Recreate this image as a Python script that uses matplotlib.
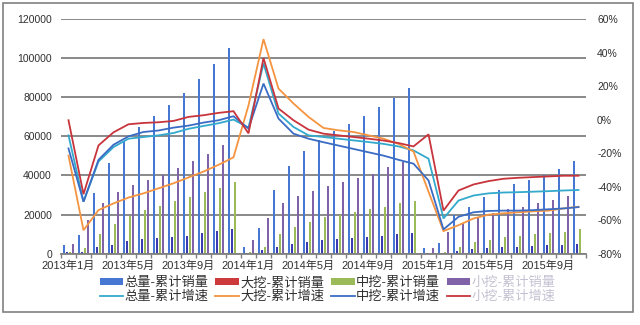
import numpy as np
import matplotlib
matplotlib.use("Agg")
import matplotlib.pyplot as plt
from matplotlib.patches import Patch, Rectangle
from matplotlib.lines import Line2D

plt.rcParams['font.family'] = ['Liberation Sans', 'Noto Sans CJK SC', 'DejaVu Sans']

# 2013年1月 – 2015年11月, monthly cumulative figures
n_months = 35
tick_index = [0, 4, 8, 12, 16, 20, 24, 28, 32]
tick_labels = ["2013年1月", "2013年5月", "2013年9月", "2014年1月", "2014年5月",
               "2014年9月", "2015年1月", "2015年5月", "2015年9月"]

# cumulative sales (units)
total_sales = [4500, 9600, 31000, 46500, 57400, 64800, 70600, 76200, 82200, 89400, 97100, 105300,
               3600, 13200, 32700, 44600, 52300, 58000, 62600, 66300, 70300, 75100, 79700, 84800,
               2800, 5300, 19800, 24100, 29200, 32700, 35600, 37800, 40400, 43300, 47200]
large_sales = [1000, 1100, 3200, 4500, 6500, 7400, 7900, 8600, 9300, 10800, 11600, 12700,
               500, 1900, 3600, 5000, 6200, 7000, 7500, 7900, 8700, 9100, 9900, 10500,
               500, 600, 1500, 2200, 2700, 3200, 3600, 3900, 4300, 4600, 5100]
medium_sales = [1000, 2700, 9900, 15400, 19400, 22400, 24500, 27100, 29000, 31800, 33800, 36600,
                1000, 3600, 9900, 13800, 16400, 18700, 19800, 21500, 22800, 24100, 25800, 27000,
                300, 1000, 3600, 6200, 7000, 8400, 9100, 9900, 10800, 11300, 12500]
small_sales = [5000, 17300, 25800, 31500, 35000, 37500, 40400, 43800, 47200, 51000, 55700, np.nan,
               7000, 18100, 25800, 29700, 32300, 34700, 36600, 38600, 41000, 44300, 46900, np.nan,
               2800, 11000, 15900, 19000, 20700, 22800, 23800, 25800, 27500, 29600, np.nan]

# cumulative year-on-year growth (%)
total_growth = [-9.4, -49, -25, -16.4, -11.4, -10.4, -9.4, -8, -5.5, -3.8, -2.2, 0,
                -4.8, 33.5, 3.6, -4.4, -9.4, -10.4, -11.4, -12.4, -13.4, -14.5, -16, -18.4,
                -23.3, -59, -48.3, -45.3, -44, -43.5, -43.3, -43, -42.7, -42.3, -42]
large_growth = [-21.5, -66, -54, -50, -46.5, -44, -41, -38, -34.5, -31, -27, -22.5,
                8.5, 48, 18.5, 9.6, 1.6, -5, -6.4, -7.4, -9.4, -11.4, -14.5, -19,
                -43, -66.5, -63, -59, -56.7, -55.9, -55.3, -54.7, -54.3, -53, -52]
medium_growth = [-17.2, -49, -24, -15, -10, -7.4, -6.5, -4.8, -3.6, -1.8, -0.4, 2.0,
                 -5.4, 21.5, 0.6, -8.4, -11.4, -13.5, -15.5, -17.5, -19.5, -21.5, -24, -26.3,
                 -36.3, -65.5, -58, -55.3, -54.5, -54.3, -54.3, -54, -53.5, -53, -52.2]
small_growth = [-0.4, -44.5, -15.4, -7.6, -2.8, -2.0, -1.6, -0.8, 1.6, 2.6, 4.0, 5.0,
                -8.2, 36.7, 6.6, -0.4, -6, -8.4, -9.4, -10.4, -11.4, -12.5, -14, -16,
                -8.8, -54.3, -42.3, -38.7, -36.7, -35.3, -34.7, -34.3, -33.9, -33.5, -33.5]

bar_names = ["总量-累计销量", "大挖-累计销量", "中挖-累计销量", "小挖-累计销量"]
line_names = ["总量-累计增速", "大挖-累计增速", "中挖-累计增速", "小挖-累计增速"]

bar_colors = ["#4677d2", "#3b3bb2", "#9bbb59", "#7f62a8"]
legend_bar_colors = ["#4677d2", "#cc3a3c", "#9bbb59", "#7f62a8"]
line_colors = ["#33a9cc", "#f59440", "#3b6cc4", "#c8343c"]
grid_color = "#808080"
text_color = "#303030"

fig = plt.figure(figsize=(6.4, 3.25), dpi=100)
ax = fig.add_axes([61 / 640, 1 - 253.7 / 325, 525 / 640, (253.7 - 19) / 325])
ax2 = ax.twinx()

x = np.arange(n_months)
offsets = [-0.3, -0.1, 0.1, 0.3]
for series, off, color in zip([total_sales, large_sales, medium_sales, small_sales], offsets, bar_colors):
    ax.bar(x + off, series, width=0.17, color=color, linewidth=0)

for series, color in zip([total_growth, large_growth, medium_growth, small_growth], line_colors):
    ax2.plot(x, series, color=color, lw=1.3, solid_joinstyle='miter')

# left axis: sales
ax.set_xlim(-0.5, n_months - 0.5)
ax.set_ylim(0, 120000)
ax.set_yticks(range(0, 120001, 20000))
ax.set_yticklabels([str(v) for v in range(0, 120001, 20000)])
ax.yaxis.grid(True, color=grid_color, lw=1.3)
ax.set_axisbelow(True)
ax.tick_params(axis='y', length=0, pad=6.5, labelsize=7.5, labelcolor=text_color)

# x axis: labels every four months, ticks between categories
ax.set_xticks(tick_index)
ax.set_xticklabels(tick_labels)
ax.set_xticks(np.arange(-0.5, n_months, 1), minor=True)
ax.tick_params(axis='x', which='major', length=0, pad=5, labelsize=8, labelcolor=text_color)
ax.tick_params(axis='x', which='minor', length=3, width=1, color=grid_color, direction='out')

# right axis: growth
ax2.set_ylim(-80, 60)
ax2.set_yticks(range(-80, 61, 20))
ax2.set_yticklabels([f"{v}%" for v in range(-80, 61, 20)])
ax2.tick_params(axis='y', length=0, pad=8, labelsize=7.5, labelcolor=text_color)

for a in (ax, ax2):
    for side in ("left", "right", "top", "bottom"):
        a.spines[side].set_visible(False)
ax.spines["bottom"].set_visible(True)
ax.spines["bottom"].set_color(grid_color)
ax.spines["bottom"].set_linewidth(1.3)

# legend: four columns, bars on the first row, growth lines on the second
handles, labels = [], []
for i in range(4):
    handles.append(Patch(facecolor=legend_bar_colors[i], edgecolor='none'))
    labels.append(bar_names[i])
    handles.append(Line2D([], [], color=line_colors[i], lw=1.3))
    labels.append(line_names[i])
leg = fig.legend(handles, labels, ncol=4, loc='center', bbox_to_anchor=(0.512, 0.108),
                 frameon=False, fontsize=9.5, handlelength=1.8, handleheight=0.35,
                 handletextpad=0.1, columnspacing=0.5, labelspacing=0.1)
for i, t in enumerate(leg.get_texts()):
    t.set_color("#c4c2d2" if i >= 6 else text_color)

# chart frame
fig.patches.append(Rectangle((3 / 640, 1 - 312 / 325), 630 / 640, 309 / 325,
                             transform=fig.transFigure, fill=False,
                             edgecolor="#808080", linewidth=1.2))

fig.savefig("out.png", dpi=100, facecolor="white")
